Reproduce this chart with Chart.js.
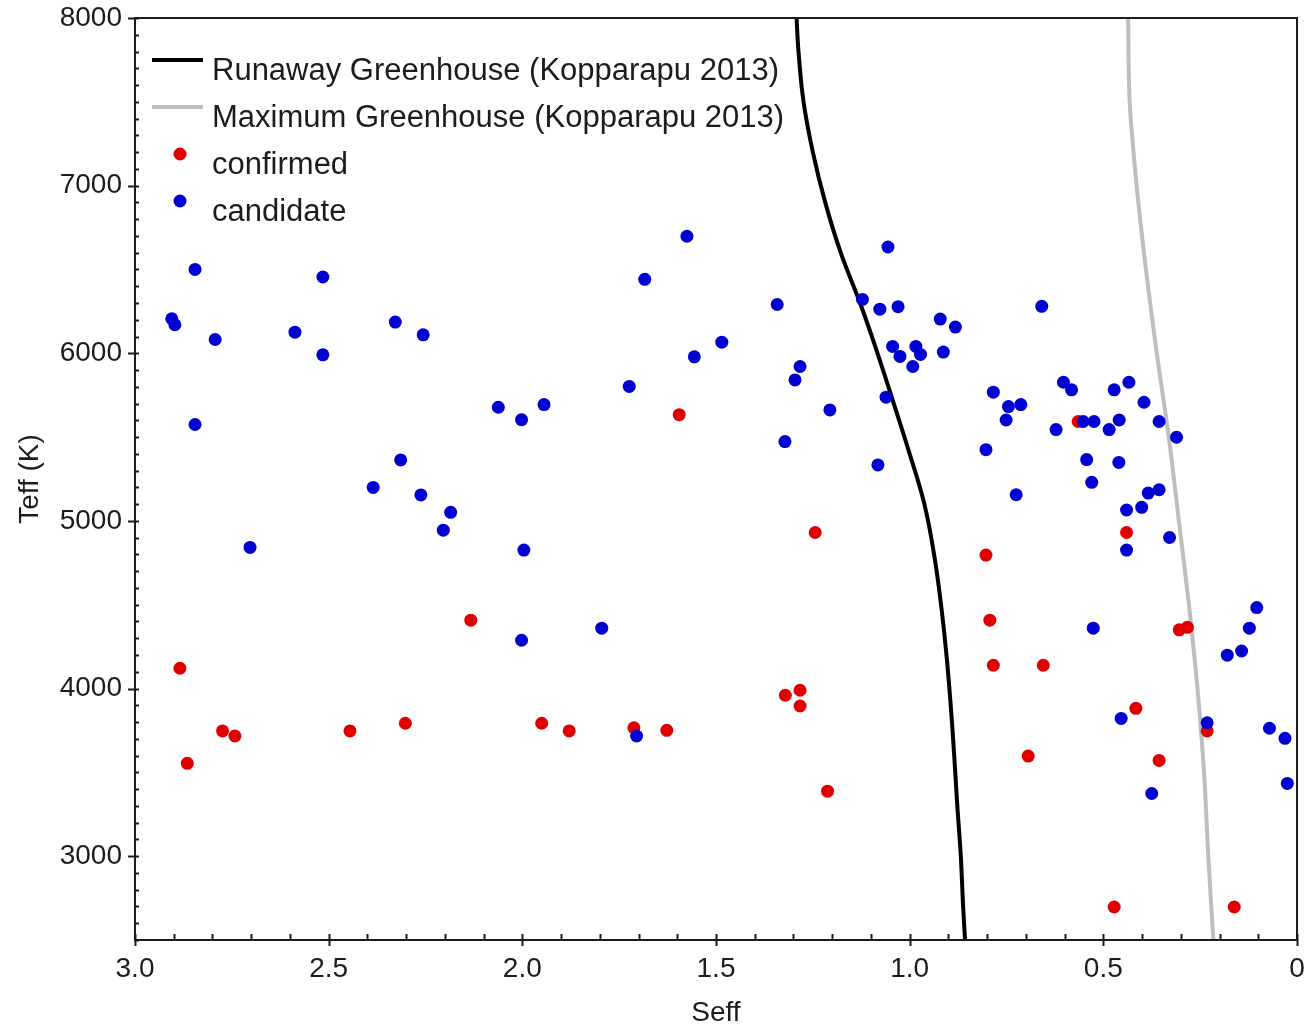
<!DOCTYPE html>
<html>
<head>
<meta charset="utf-8">
<title>Seff vs Teff</title>
<script src="https://cdn.jsdelivr.net/npm/chart.js@4.4.1/dist/chart.umd.min.js"></script>
<style>
  html, body { margin: 0; padding: 0; background: #fff; }
  canvas { display: block; }
</style>
</head>
<body>
<canvas id="hz" width="1310" height="1030"></canvas>
<script>
// habitable zone limits (Kopparapu 2013)
const runawayTeff = [8000, 7800, 7500, 7200, 6900, 6600, 6300, 6000, 5700, 5400, 5100, 4800, 4500, 4200, 3900, 3600, 3300, 3000, 2700, 2500];
const runawaySeff = [1.292, 1.287, 1.274, 1.250, 1.218, 1.178, 1.128, 1.083, 1.041, 1.000, 0.962, 0.937, 0.919, 0.905, 0.894, 0.885, 0.877, 0.868, 0.862, 0.857];
const maxTeff = [8000, 7500, 7000, 6500, 6000, 5500, 5000, 4500, 4000, 3500, 3000, 2500];
const maxSeff = [0.436, 0.432, 0.414, 0.390, 0.362, 0.331, 0.305, 0.279, 0.257, 0.240, 0.229, 0.216];

// planets
const confirmedSeff = [1.595, 1.244, 0.565, 0.440, 0.803, 0.793, 0.304, 0.283, 0.784, 0.655, 0.416, 0.232, 0.694, 0.356, 0.472, 0.162,
  2.884, 2.133, 2.774, 2.742, 2.865, 2.445, 2.302, 1.950, 1.879, 1.712, 1.627, 1.321, 1.283, 1.283, 1.212];
const confirmedTeff = [5634, 4931, 5593, 4931, 4796, 4408, 4350, 4365, 4139, 4139, 3882, 3747, 3597, 3571, 2697, 2697,
  4121, 4408, 3747, 3717, 3554, 3747, 3793, 3793, 3747, 3766, 3751, 3960, 3990, 3896, 3388];

const candidateSeff = [2.845, 2.515, 2.905, 2.897, 2.793, 2.587, 2.515, 2.328, 2.256, 2.845, 2.062, 2.002, 1.944, 2.314, 2.385, 2.262,
  2.185, 2.204, 2.703, 1.996, 2.002, 1.795, 1.705,
  1.575, 1.056, 1.684, 1.342, 1.122, 1.077, 1.030, 0.921, 0.882, 1.485, 1.556, 1.044, 1.025, 0.984, 0.972, 0.913, 0.992,
  1.283, 1.296, 1.724, 1.061, 1.206, 1.322, 1.082,
  0.659, 0.784, 0.745, 0.713, 0.751, 0.603, 0.582, 0.472, 0.434, 0.395, 0.552, 0.524, 0.459, 0.485, 0.622, 0.356, 0.311,
  0.803, 0.543, 0.460, 0.530, 0.725, 0.384, 0.356, 0.440, 0.401, 0.329, 0.440, 0.104,
  0.526, 0.123, 0.143, 0.180, 0.454, 0.232, 0.071, 0.031, 0.025, 0.375];
const candidateTeff = [6500, 6455, 6206, 6170, 6082, 6126, 5991, 6186, 6110, 5575, 5678, 5604, 5694, 5364, 5200, 5155,
  5051, 4945, 4842, 4826, 4288, 4360, 3717,
  6698, 6634, 6441, 6291, 6321, 6263, 6278, 6204, 6156, 6066, 5979, 6041, 5981, 6041, 5993, 6007, 5921,
  5921, 5841, 5802, 5738, 5662, 5473, 5334,
  6280, 5768, 5682, 5694, 5602, 5827, 5782, 5782, 5827, 5708, 5593, 5593, 5602, 5545, 5545, 5593, 5499,
  5425, 5366, 5349, 5230, 5156, 5166, 5186, 5065, 5081, 4901, 4826, 4483,
  4360, 4360, 4224, 4199, 3822, 3796, 3763, 3703, 3434, 3374];

const xTicks = [3.0, 2.5, 2.0, 1.5, 1.0, 0.5, 0];
const yTicks = [3000, 4000, 5000, 6000, 7000, 8000];
const xMinorStep = 0.1;
const yMinorStep = 100;

const pts = (xs, ys) => xs.map((x, i) => ({ x: x, y: ys[i] }));

const FONT = '"Liberation Sans", Arial, sans-serif';
const INK = '#1c1c1c';

// keep the plot box exactly where the layout padding puts it
const noScalePad = s => { s.paddingTop = 0; s.paddingBottom = 0; s.paddingLeft = 0; s.paddingRight = 0; };

// box, tick marks and the legend drawn inside the plot
const frameAndLegend = {
  id: 'frameAndLegend',
  afterDraw(chart) {
    const { ctx, chartArea: a, scales } = chart;
    const xs = scales.x, ys = scales.y;
    ctx.save();
    ctx.strokeStyle = INK;
    ctx.lineWidth = 2;
    ctx.strokeRect(a.left, a.top, a.right - a.left, a.bottom - a.top);

    ctx.beginPath();
    for (let v = xs.min; v <= xs.max + 1e-9; v += xMinorStep) {
      const px = Math.round(xs.getPixelForValue(v)) + 0.5;
      const major = xTicks.some(t => Math.abs(t - v) < 1e-6);
      ctx.moveTo(px, a.bottom - 6);
      ctx.lineTo(px, a.bottom + (major ? 6 : 0));
    }
    for (let v = ys.min; v <= ys.max + 1e-9; v += yMinorStep) {
      const py = Math.round(ys.getPixelForValue(v)) + 0.5;
      const major = yTicks.includes(v);
      ctx.moveTo(a.left - (major ? 7 : 1), py);
      ctx.lineTo(a.left + 4, py);
    }
    ctx.stroke();

    ctx.font = '31px ' + FONT;
    ctx.textBaseline = 'alphabetic';
    chart.data.datasets.forEach((ds, i) => {
      const y = a.top + 42 + i * 47;
      if (ds.showLine) {
        ctx.strokeStyle = ds.borderColor;
        ctx.lineWidth = 4;
        ctx.beginPath();
        ctx.moveTo(a.left + 17, y);
        ctx.lineTo(a.left + 68, y);
        ctx.stroke();
      } else {
        ctx.fillStyle = ds.backgroundColor;
        ctx.beginPath();
        ctx.arc(a.left + 45, y, 6.5, 0, Math.PI * 2);
        ctx.fill();
      }
      ctx.fillStyle = INK;
      ctx.fillText(ds.label, a.left + 77, y + 20);
    });
    ctx.restore();
  }
};

new Chart(document.getElementById('hz'), {
  type: 'scatter',
  data: {
    datasets: [
      { label: 'Runaway Greenhouse (Kopparapu 2013)', data: pts(runawaySeff, runawayTeff), showLine: true,
        borderColor: '#000000', backgroundColor: '#000000', borderWidth: 4, pointRadius: 0, tension: 0.4, order: 3 },
      { label: 'Maximum Greenhouse (Kopparapu 2013)', data: pts(maxSeff, maxTeff), showLine: true,
        borderColor: '#bebebe', backgroundColor: '#bebebe', borderWidth: 4, pointRadius: 0, tension: 0.3, order: 2 },
      { label: 'confirmed', data: pts(confirmedSeff, confirmedTeff),
        backgroundColor: '#e00000', borderWidth: 0, pointRadius: 6.5, order: 1 },
      { label: 'candidate', data: pts(candidateSeff, candidateTeff),
        backgroundColor: '#0000d2', borderWidth: 0, pointRadius: 6.5, order: 0 }
    ]
  },
  options: {
    responsive: false,
    animation: false,
    layout: { padding: { top: 18, right: 13, left: 0, bottom: 0 } },
    plugins: { legend: { display: false }, tooltip: { enabled: false } },
    scales: {
      x: {
        type: 'linear', min: 0, max: 3, reverse: true,
        grid: { display: false, drawTicks: false },
        border: { display: false },
        afterBuildTicks: s => { s.ticks = xTicks.map(v => ({ value: v })); },
        afterFit: s => { s.height = 90; noScalePad(s); },
        ticks: { color: INK, font: { family: FONT, size: 28 }, padding: 12, maxRotation: 0,
          callback: v => v === 0 ? '0' : v.toFixed(1) },
        title: { display: true, text: 'Seff', color: INK, font: { family: FONT, size: 28 }, padding: 0 }
      },
      y: {
        type: 'linear', min: 2500, max: 8000,
        grid: { display: false, drawTicks: false },
        border: { display: false },
        afterBuildTicks: s => { s.ticks = yTicks.map(v => ({ value: v })); },
        afterFit: s => { s.width = 135; noScalePad(s); },
        ticks: { color: INK, font: { family: FONT, size: 28 }, padding: 13, callback: v => String(v) },
        title: { display: true, text: 'Teff (K)', color: INK, font: { family: FONT, size: 28 }, padding: { top: 13, bottom: 0 } }
      }
    }
  },
  plugins: [frameAndLegend]
});
</script>
</body>
</html>
